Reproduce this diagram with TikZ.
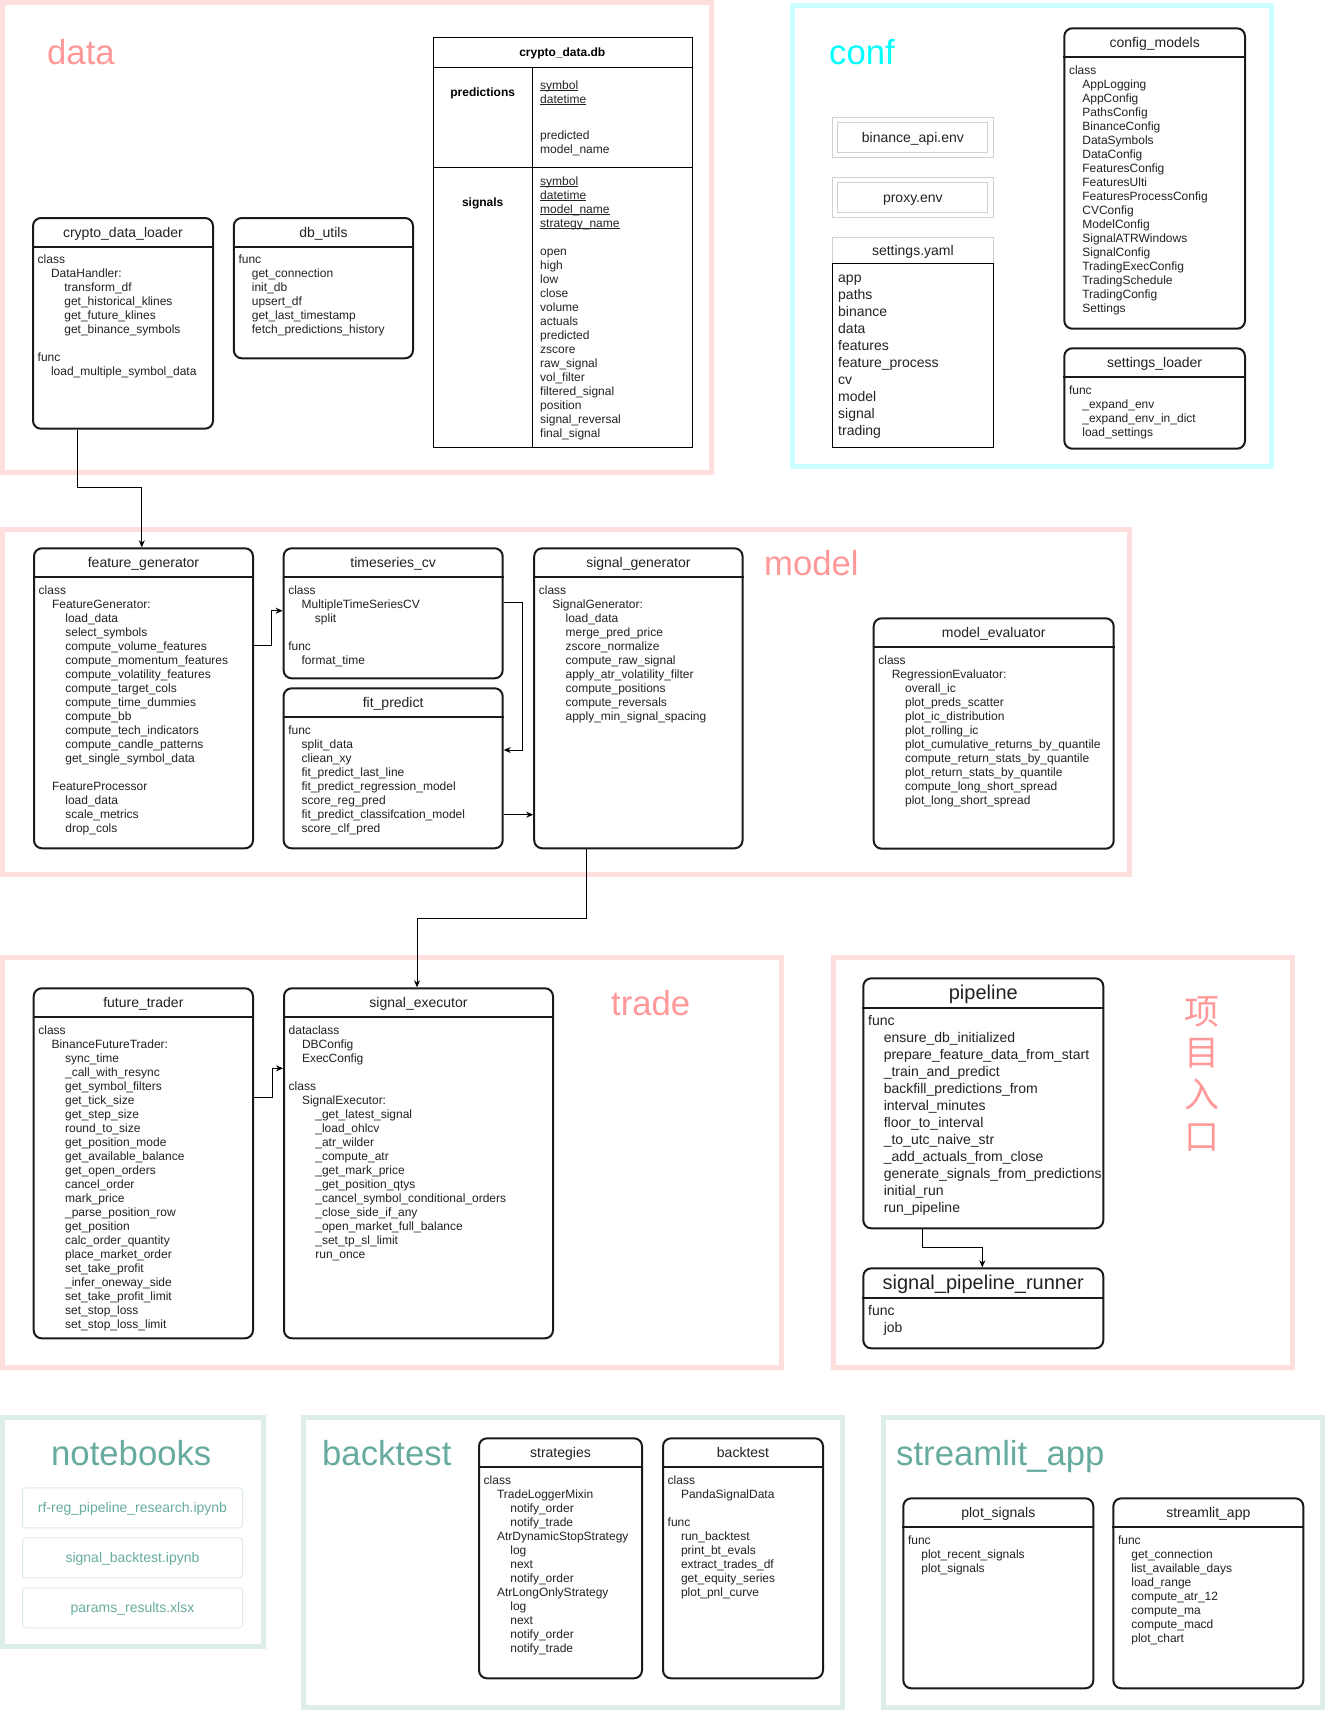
\documentclass[tikz,border=0pt]{standalone}
\usepackage{fontspec}
\setmainfont{Liberation Sans}
\newfontfamily\cjkfont{Noto Sans CJK SC}
\usetikzlibrary{calc,arrows.meta}
\definecolor{pinkframe}{HTML}{FFDEDE}
\definecolor{pinklabel}{HTML}{FF9999}
\definecolor{cyanframe}{HTML}{CCFFFF}
\definecolor{cyanlabel}{HTML}{00FFFF}
\definecolor{tealframe}{HTML}{DDEDE9}
\definecolor{teallabel}{HTML}{67AB9F}
\definecolor{nbbox}{HTML}{DCEBE7}
\definecolor{envc}{HTML}{D0D0D0}
\definecolor{boxc}{HTML}{1A1A1A}
\definecolor{txtc}{HTML}{222222}
\newcommand{\fs}[2]{\fontsize{#1pt}{#2pt}\selectfont}
\newcommand{\ia}{\hspace*{1.112em}}
\newcommand{\ib}{\hspace*{2.224em}}
\newcommand{\lns}[1]{\parbox[t]{300pt}{\raggedright #1}}
\newcommand{\keyf}[1]{\leavevmode\setbox0\hbox{#1}\rlap{\rule[-2pt]{\wd0}{1pt}}\box0}
\newcommand{\umlbox}[7]{%
  \node[box, minimum width=#4pt, minimum height=#5pt, anchor=north west] (#1) at (#2,#3) {};
  \draw[divl] ($(#1.north west)+(0,30)$) -- ($(#1.north east)+(0,30)$);
  \node[ttl] (#1-t) at ($(#1.north)+(0,20)$) {#6};
  \node[body] (#1-b) at ($(#1.north west)+(5.5,46.8)$) {\lns{#7}};
}
\begin{document}
\begin{tikzpicture}[x=1pt,y=-1pt,
  box/.style={draw=boxc, line width=2pt, rounded corners=8pt, fill=white, inner sep=0pt},
  divl/.style={draw=boxc, line width=2pt},
  ttl/.style={anchor=base, inner sep=0pt, font=\fs{14}{16}, text=txtc},
  body/.style={anchor=base west, inner sep=0pt, font=\fs{12}{14}, text=txtc},
  conn/.style={draw=black, line width=1pt, -{Stealth[length=7pt,width=6pt]}},
  grp/.style={line width=5pt},
  flabel/.style={anchor=base west, inner sep=0pt, font=\fs{34.7}{40}},
  plainbox/.style={line width=1pt, inner sep=0pt, anchor=north west},
  ctext/.style={anchor=base, inner sep=0pt, font=\fs{14}{17}, text=txtc},
  boldt/.style={anchor=base, inner sep=0pt, font=\bfseries\fs{12}{14}, text=black},
]
\useasboundingbox (0,0) rectangle (1325,1710);

% ---------- group frames ----------
\draw[grp, draw=pinkframe] (2.5,2.5) rectangle (711.5,472.5);
\draw[grp, draw=cyanframe] (792.5,5.5) rectangle (1271.5,466.5);
\draw[grp, draw=pinkframe] (2.5,529.5) rectangle (1129.5,874.5);
\draw[grp, draw=pinkframe] (2.5,957.5) rectangle (781.5,1367.5);
\draw[grp, draw=pinkframe] (833,957.5) rectangle (1292,1367.5);
\draw[grp, draw=tealframe] (2.5,1417.5) rectangle (263,1646.5);
\draw[grp, draw=tealframe] (303,1417.5) rectangle (842,1707.5);
\draw[grp, draw=tealframe] (883,1417.5) rectangle (1322.5,1707.5);

% ---------- group labels ----------
\node[flabel, text=pinklabel] (lbl-data) at (47,65) {data};
\node[flabel, text=cyanlabel] (lbl-conf) at (829,65) {conf};
\node[flabel, text=pinklabel] (lbl-model) at (764,575) {model};
\node[flabel, text=pinklabel] (lbl-trade) at (611,1015) {trade};
\node[flabel, text=teallabel] (lbl-nb) at (51,1465) {notebooks};
\node[flabel, text=teallabel] (lbl-bt) at (322,1465) {backtest};
\node[flabel, text=teallabel] (lbl-st) at (896,1465) {streamlit\_app};
\node[anchor=base, inner sep=0pt, text=pinklabel, font=\cjkfont\fs{35}{41.67}] (lbl-entry) at (1202,1024.3)
  {\parbox[t]{40pt}{\centering 项\\目\\入\\口}};

% ---------- data ----------
\umlbox{cdl}{32}{217}{180}{210.7}{crypto\_data\_loader}{class\\\ia DataHandler:\\\ib transform\_df\\\ib get\_historical\_klines\\\ib get\_future\_klines\\\ib get\_binance\_symbols\\\mbox{}\\func\\\ia load\_multiple\_symbol\_data}
\umlbox{dbu}{232.8}{217}{179.2}{140.3}{db\_utils}{func\\\ia get\_connection\\\ia init\_db\\\ia upsert\_df\\\ia get\_last\_timestamp\\\ia fetch\_predictions\_history}

\node[plainbox, draw=black, minimum width=259.4pt, minimum height=410pt] (cdb) at (432.6,37) {};
\draw[line width=1pt] ($(cdb.north west)+(0,30.7)$) -- ($(cdb.north east)+(0,30.7)$);
\draw[line width=1pt] ($(cdb.north west)+(0,130.3)$) -- ($(cdb.north east)+(0,130.3)$);
\draw[line width=1pt] ($(cdb.north west)+(100.1,30.7)$) -- ($(cdb.south west)+(100.1,0)$);
\node[boldt] (cdb-t) at (562.3,56.5) {crypto\_data.db};
\node[boldt] (cdb-p) at (482.7,96) {predictions};
\node[boldt] (cdb-s) at (482.7,206) {signals};
\node[body] (cdb-pk) at (540,89) {\lns{\keyf{symbol}\\\keyf{datetime}}};
\node[body] (cdb-pa) at (540,139) {\lns{predicted\\model\_name}};
\node[body] (cdb-sf) at (540,185) {\lns{\keyf{symbol}\\\keyf{datetime}\\\keyf{model\_name}\\\keyf{strategy\_name}\\\mbox{}\\open\\high\\low\\close\\volume\\actuals\\predicted\\zscore\\raw\_signal\\vol\_filter\\filtered\_signal\\position\\signal\_reversal\\final\_signal}};

% ---------- conf ----------
\node[plainbox, draw=envc, minimum width=160.7pt, minimum height=40pt] (env1) at (832,117) {};
\node[draw=envc, line width=1pt, inner sep=0pt, minimum width=150.1pt, minimum height=30pt] (env1i) at (env1.center) {};
\node[ctext] (env1-t) at ($(env1.center)+(0,4.85)$) {binance\_api.env};
\node[plainbox, draw=envc, minimum width=160.7pt, minimum height=40pt] (env2) at (832,177) {};
\node[draw=envc, line width=1pt, inner sep=0pt, minimum width=150.1pt, minimum height=30pt] (env2i) at (env2.center) {};
\node[ctext] (env2-t) at ($(env2.center)+(0,4.85)$) {proxy.env};
\node[plainbox, draw=envc, minimum width=160.7pt, minimum height=26pt] (sy) at (832,237) {};
\node[plainbox, draw=black, minimum width=160.7pt, minimum height=184pt] (syb) at (832,263) {};
\node[ctext] (sy-t) at ($(sy.center)+(0,4.85)$) {settings.yaml};
\node[body, font=\fs{14}{17}] (syb-b) at (838,282.5) {\lns{app\\paths\\binance\\data\\features\\feature\_process\\cv\\model\\signal\\trading}};

\umlbox{cfgm}{1063.3}{27.3}{180.7}{300.4}{config\_models}{class\\\ia AppLogging\\\ia AppConfig\\\ia PathsConfig\\\ia BinanceConfig\\\ia DataSymbols\\\ia DataConfig\\\ia FeaturesConfig\\\ia FeaturesUlti\\\ia FeaturesProcessConfig\\\ia CVConfig\\\ia ModelConfig\\\ia SignalATRWindows\\\ia SignalConfig\\\ia TradingExecConfig\\\ia TradingSchedule\\\ia TradingConfig\\\ia Settings}
\umlbox{setl}{1063.3}{347.3}{180.7}{100.4}{settings\_loader}{func\\\ia \_expand\_env\\\ia \_expand\_env\_in\_dict\\\ia load\_settings}

% ---------- model ----------
\umlbox{fg}{33}{547.3}{219}{300}{feature\_generator}{class\\\ia FeatureGenerator:\\\ib load\_data\\\ib select\_symbols\\\ib compute\_volume\_features\\\ib compute\_momentum\_features\\\ib compute\_volatility\_features\\\ib compute\_target\_cols\\\ib compute\_time\_dummies\\\ib compute\_bb\\\ib compute\_tech\_indicators\\\ib compute\_candle\_patterns\\\ib get\_single\_symbol\_data\\\mbox{}\\\ia FeatureProcessor\\\ib load\_data\\\ib scale\_metrics\\\ib drop\_cols}
\umlbox{tscv}{282.6}{547.3}{219.1}{130}{timeseries\_cv}{class\\\ia MultipleTimeSeriesCV\\\ib split\\\mbox{}\\func\\\ia format\_time}
\umlbox{fp}{282.6}{687.3}{219.1}{160}{fit\_predict}{func\\\ia split\_data\\\ia cliean\_xy\\\ia fit\_predict\_last\_line\\\ia fit\_predict\_regression\_model\\\ia score\_reg\_pred\\\ia fit\_predict\_classifcation\_model\\\ia score\_clf\_pred}
\umlbox{sg}{533.2}{547.3}{208.4}{300}{signal\_generator}{class\\\ia SignalGenerator:\\\ib load\_data\\\ib merge\_pred\_price\\\ib zscore\_normalize\\\ib compute\_raw\_signal\\\ib apply\_atr\_volatility\_filter\\\ib compute\_positions\\\ib compute\_reversals\\\ib apply\_min\_signal\_spacing}
\umlbox{me}{872.7}{617.3}{240}{230.4}{model\_evaluator}{class\\\ia RegressionEvaluator:\\\ib overall\_ic\\\ib plot\_preds\_scatter\\\ib plot\_ic\_distribution\\\ib plot\_rolling\_ic\\\ib plot\_cumulative\_returns\_by\_quantile\\\ib compute\_return\_stats\_by\_quantile\\\ib plot\_return\_stats\_by\_quantile\\\ib compute\_long\_short\_spread\\\ib plot\_long\_short\_spread}

% ---------- trade ----------
\umlbox{ft}{32.7}{987.3}{219.3}{350}{future\_trader}{class\\\ia BinanceFutureTrader:\\\ib sync\_time\\\ib \_call\_with\_resync\\\ib get\_symbol\_filters\\\ib get\_tick\_size\\\ib get\_step\_size\\\ib round\_to\_size\\\ib get\_position\_mode\\\ib get\_available\_balance\\\ib get\_open\_orders\\\ib cancel\_order\\\ib mark\_price\\\ib \_parse\_position\_row\\\ib get\_position\\\ib calc\_order\_quantity\\\ib place\_market\_order\\\ib set\_take\_profit\\\ib \_infer\_oneway\_side\\\ib set\_take\_profit\_limit\\\ib set\_stop\_loss\\\ib set\_stop\_loss\_limit}
\umlbox{se}{283}{987.3}{269}{350}{signal\_executor}{dataclass\\\ia DBConfig\\\ia ExecConfig\\\mbox{}\\class\\\ia SignalExecutor:\\\ib \_get\_latest\_signal\\\ib \_load\_ohlcv\\\ib \_atr\_wilder\\\ib \_compute\_atr\\\ib \_get\_mark\_price\\\ib \_get\_position\_qtys\\\ib \_cancel\_symbol\_conditional\_orders\\\ib \_close\_side\_if\_any\\\ib \_open\_market\_full\_balance\\\ib \_set\_tp\_sl\_limit\\\ib run\_once}

% ---------- entry ----------
\node[box, minimum width=240pt, minimum height=250pt, anchor=north west] (pl) at (862.3,977.3) {};
\draw[divl] ($(pl.north west)+(0,30.4)$) -- ($(pl.north east)+(0,30.4)$);
\node[ttl, font=\fs{20}{24}] (pl-t) at ($(pl.north)+(0,22)$) {pipeline};
\node[body, font=\fs{14}{17}] (pl-b) at ($(pl.north west)+(5.7,48.1)$) {\lns{func\\\ia ensure\_db\_initialized\\\ia prepare\_feature\_data\_from\_start\\\ia \_train\_and\_predict\\\ia backfill\_predictions\_from\\\ia interval\_minutes\\\ia floor\_to\_interval\\\ia \_to\_utc\_naive\_str\\\ia \_add\_actuals\_from\_close\\\ia generate\_signals\_from\_predictions\\\ia initial\_run\\\ia run\_pipeline}};
\node[box, minimum width=240pt, minimum height=80pt, anchor=north west] (spr) at (862.3,1267.3) {};
\draw[divl] ($(spr.north west)+(0,30.4)$) -- ($(spr.north east)+(0,30.4)$);
\node[ttl, font=\fs{20}{24}] (spr-t) at ($(spr.north)+(0,22)$) {signal\_pipeline\_runner};
\node[body, font=\fs{14}{17}] (spr-b) at ($(spr.north west)+(5.7,48.1)$) {\lns{func\\\ia job}};

% ---------- notebooks ----------
\node[plainbox, draw=nbbox, rounded corners=3pt, minimum width=220pt, minimum height=40pt] (nb1) at (22,1487.3) {};
\node[ctext, text=teallabel] (nb1-t) at ($(nb1.center)+(0,4.85)$) {rf-reg\_pipeline\_research.ipynb};
\node[plainbox, draw=nbbox, rounded corners=3pt, minimum width=220pt, minimum height=40pt] (nb2) at (22,1537.3) {};
\node[ctext, text=teallabel] (nb2-t) at ($(nb2.center)+(0,4.85)$) {signal\_backtest.ipynb};
\node[plainbox, draw=nbbox, rounded corners=3pt, minimum width=220pt, minimum height=40pt] (nb3) at (22,1587.3) {};
\node[ctext, text=teallabel] (nb3-t) at ($(nb3.center)+(0,4.85)$) {params\_results.xlsx};

% ---------- backtest ----------
\umlbox{strat}{478}{1437.3}{163}{240}{strategies}{class\\\ia TradeLoggerMixin\\\ib notify\_order\\\ib notify\_trade\\\ia AtrDynamicStopStrategy\\\ib log\\\ib next\\\ib notify\_order\\\ia AtrLongOnlyStrategy\\\ib log\\\ib next\\\ib notify\_order\\\ib notify\_trade}
\umlbox{bt}{662}{1437.3}{160}{240}{backtest}{class\\\ia PandaSignalData\\\mbox{}\\func\\\ia run\_backtest\\\ia print\_bt\_evals\\\ia extract\_trades\_df\\\ia get\_equity\_series\\\ia plot\_pnl\_curve}

% ---------- streamlit_app ----------
\umlbox{ps}{902.3}{1497.3}{190}{190}{plot\_signals}{func\\\ia plot\_recent\_signals\\\ia plot\_signals}
\umlbox{sa}{1112.3}{1497.3}{190}{190}{streamlit\_app}{func\\\ia get\_connection\\\ia list\_available\_days\\\ia load\_range\\\ia compute\_atr\_12\\\ia compute\_ma\\\ia compute\_macd\\\ia plot\_chart}

% ---------- connectors ----------
\coordinate (k1) at (77.6,487.5);
\coordinate (k2) at (141.8,487.5);
\draw[conn] (cdl.south -| k1) -- (k1) -- (k2) -- (fg.north -| k2);
\coordinate (k3) at (271.4,645);
\coordinate (k4) at (271.4,610.7);
\draw[conn] (fg.east |- k3) -- (k3) -- (k4) -- (tscv.west |- k4);
\coordinate (k5) at (522,602);
\coordinate (k6) at (522,750);
\draw[conn] (tscv.east |- k5) -- (k5) -- (k6) -- (fp.east |- k6);
\coordinate (k7) at (517,814.7);
\draw[conn] (fp.east |- k7) -- (sg.west |- k7);
\coordinate (k8) at (586.5,918);
\coordinate (k9) at (417,918);
\draw[conn] (sg.south -| k8) -- (k8) -- (k9) -- (se.north -| k9);
\coordinate (k10) at (272,1097.3);
\coordinate (k11) at (272,1068.3);
\draw[conn] (ft.east |- k10) -- (k10) -- (k11) -- (se.west |- k11);
\coordinate (k12) at (922.3,1247.3);
\coordinate (k13) at (982.3,1247.3);
\draw[conn] (pl.south -| k12) -- (k12) -- (k13) -- (spr.north -| k13);
\end{tikzpicture}
\end{document}
